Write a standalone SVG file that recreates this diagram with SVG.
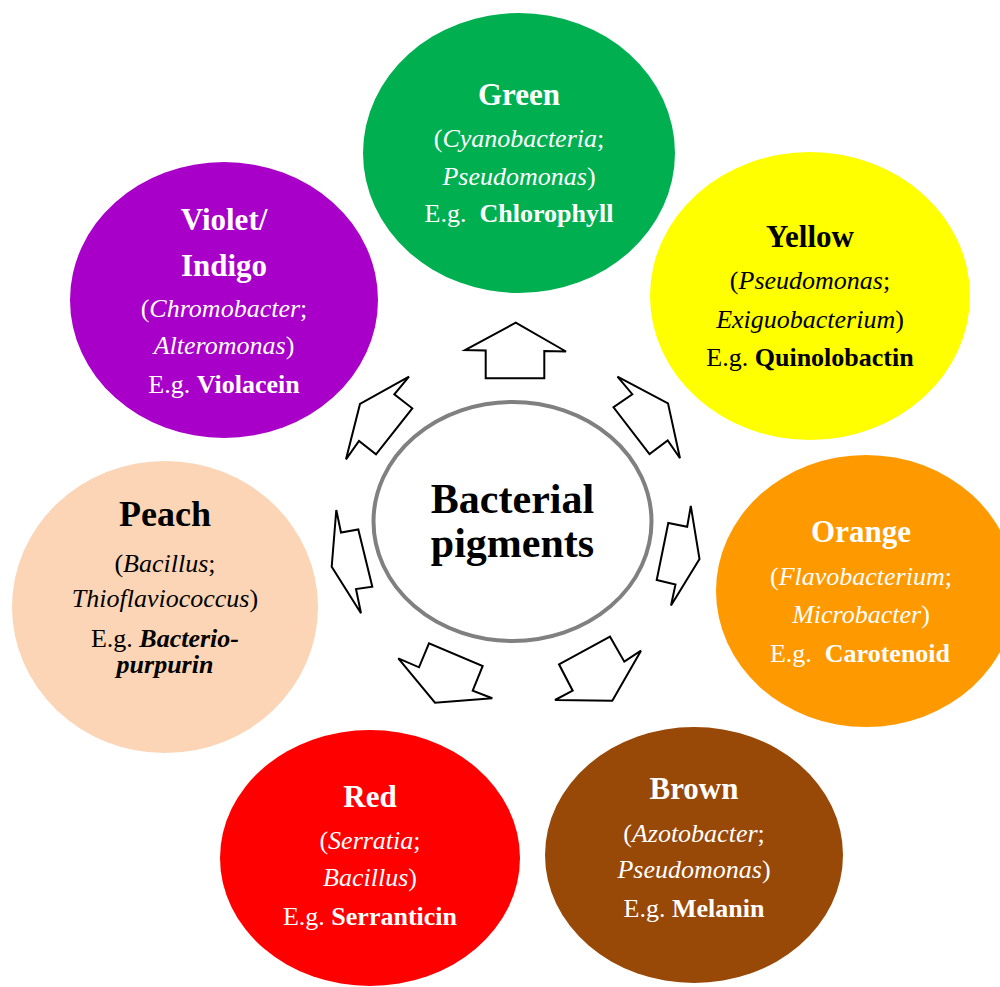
<svg xmlns="http://www.w3.org/2000/svg" width="1000" height="987" viewBox="0 0 1000 987">
<style>
text,tspan{font-family:"Liberation Serif","Times New Roman",serif}
text{text-anchor:middle;font-size:26px}
.t{font-weight:bold;font-size:31px}
.i{font-style:italic}
.b{font-weight:bold}
.w{fill:#fff}
.k{fill:#000}
.arr{fill:#fff;stroke:#000;stroke-width:2;stroke-linejoin:miter}
</style>
<rect width="1000" height="987" fill="#fff"/>
<g id="green">
<ellipse cx="519" cy="153" rx="156" ry="140" fill="#00B050"/>
<text class="w t" x="519" y="105">Green</text>
<text class="w" x="519" y="147">(<tspan class="i">Cyanobacteria</tspan>;</text>
<text class="w" x="519" y="185"><tspan class="i">Pseudomonas</tspan>)</text>
<text class="w" x="519" y="222" xml:space="preserve">E.g.  <tspan class="b">Chlorophyll</tspan></text>
</g>
<g id="yellow">
<ellipse cx="810" cy="296" rx="160" ry="144" fill="#FFFF00"/>
<text class="k t" x="810" y="247">Yellow</text>
<text class="k" x="810" y="289">(<tspan class="i">Pseudomonas</tspan>;</text>
<text class="k" x="810" y="328"><tspan class="i">Exiguobacterium</tspan>)</text>
<text class="k" x="810" y="366">E.g. <tspan class="b">Quinolobactin</tspan></text>
</g>
<g id="orange">
<ellipse cx="866" cy="591" rx="150" ry="136" fill="#FF9900"/>
<text class="w t" x="861" y="542">Orange</text>
<text class="w" x="861" y="585">(<tspan class="i">Flavobacterium</tspan>;</text>
<text class="w" x="861" y="623"><tspan class="i">Microbacter</tspan>)</text>
<text class="w" x="860" y="662" xml:space="preserve">E.g.  <tspan class="b">Carotenoid</tspan></text>
</g>
<g id="brown">
<ellipse cx="694" cy="855" rx="149" ry="128" fill="#984807"/>
<text class="w t" x="694" y="799">Brown</text>
<text class="w" x="694" y="842">(<tspan class="i">Azotobacter</tspan>;</text>
<text class="w" x="694" y="878"><tspan class="i">Pseudomonas</tspan>)</text>
<text class="w" x="694" y="917">E.g. <tspan class="b">Melanin</tspan></text>
</g>
<g id="red">
<ellipse cx="370" cy="858" rx="150" ry="128" fill="#FF0000"/>
<text class="w t" x="370" y="807">Red</text>
<text class="w" x="370" y="849">(<tspan class="i">Serratia</tspan>;</text>
<text class="w" x="370" y="886"><tspan class="i">Bacillus</tspan>)</text>
<text class="w" x="370" y="925">E.g. <tspan class="b">Serranticin</tspan></text>
</g>
<g id="peach">
<ellipse cx="165" cy="607" rx="153" ry="146" fill="#FBD5B5"/>
<text class="k t" x="165" y="526" style="font-size:36px">Peach</text>
<text class="k" x="165" y="572">(<tspan class="i">Bacillus</tspan>;</text>
<text class="k" x="165" y="607"><tspan class="i">Thioflaviococcus</tspan>)</text>
<text class="k" x="165" y="647">E.g. <tspan class="b i">Bacterio-</tspan></text>
<text class="k b i" x="165" y="673">purpurin</text>
</g>
<g id="violet">
<ellipse cx="224" cy="300" rx="154" ry="138" fill="#A800C8"/>
<text class="w t" x="224" y="230">Violet/</text>
<text class="w t" x="224" y="276">Indigo</text>
<text class="w" x="224" y="317">(<tspan class="i">Chromobacter</tspan>;</text>
<text class="w" x="224" y="354"><tspan class="i">Alteromonas</tspan>)</text>
<text class="w" x="224" y="393">E.g. <tspan class="b">Violacein</tspan></text>
</g>
<g id="center">
<ellipse cx="512.5" cy="521.5" rx="139" ry="119.5" fill="#fff" stroke="#808080" stroke-width="4"/>
<text class="k b" x="512.5" y="513" style="font-size:42px">Bacterial</text>
<text class="k b" x="512.5" y="557" style="font-size:42px">pigments</text>
</g>
<g id="connectors">
<polygon class="arr" points="515.7,322.7 566,351.5 544.3,351 544.3,378.3 485.7,378.3 485.7,350.5 465,350"/>
<polygon class="arr" points="617.5,376.7 668,403.3 680,458.3 667.7,440.5 649.5,454 613.5,407.3 632.3,394.2"/>
<polygon class="arr" points="409,376.7 394.3,394.3 412.3,408.3 376,454.3 359,441 346,459.3 360,404"/>
<polygon class="arr" points="336.3,510 341,532.5 358.3,529.5 372.3,586.7 356,589 361,613.3 331.7,566.7"/>
<polygon class="arr" points="690.8,506 699.5,559 671,605.5 675.5,584.5 656.7,580 668.3,523 687.2,526.7"/>
<polygon class="arr" points="398.3,658.3 419,667.3 429,643.3 482.7,666 472.7,690.7 492.3,698.3 435,702.7"/>
<polygon class="arr" points="555,700 572.7,690.7 559,664.3 610,636.7 624.3,661.7 641,650.7 612.3,700.7"/>
</g>
</svg>
